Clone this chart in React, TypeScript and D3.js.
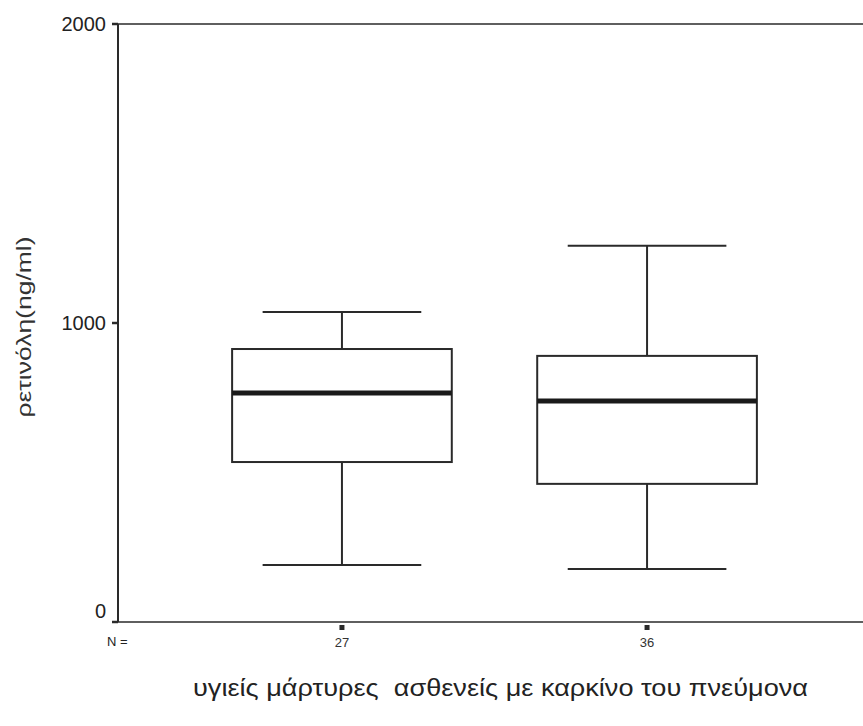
import React from 'react';
import * as d3 from 'd3';

// groups and their sample sizes
const groups = ['υγιείς μάρτυρες', 'ασθενείς με καρκίνο του πνεύμονα'];
const counts = [27, 36];

// five-number summaries (ng/ml)
const whiskerLow = [191, 177];
const q1 = [535, 462];
const medians = [766, 739];
const q3 = [913, 890];
const whiskerHigh = [1037, 1258];

const yTicks = [0, 1000, 2000];

const W = 863;
const H = 726;

const App: React.FC = () => {
  const x = d3.scalePoint<string>()
    .domain(groups)
    .range([118, 871])
    .padding(0.734);

  const y = d3.scaleLinear()
    .domain([0, 2000])
    .range([622, 24]);

  const step = x.step();
  const boxW = step * 0.72;
  const capW = step * 0.52;
  const ink = '#2a2a2a';
  const font = 'Liberation Sans, Arial, sans-serif';

  return (
    <svg width={W} height={H} style={{ position: 'absolute', left: 0, top: 0, background: '#fff' }}>
      {/* axes */}
      <line x1={118} x2={W} y1={y(2000)} y2={y(2000)} stroke={ink} strokeWidth={1.5} />
      <line x1={118} x2={W} y1={y(0)} y2={y(0)} stroke={ink} strokeWidth={1.5} />
      <line x1={118} x2={118} y1={y(2000)} y2={y(0)} stroke={ink} strokeWidth={2} />

      {yTicks.map(t => (
        <g key={t}>
          <line x1={112} x2={118} y1={y(t)} y2={y(t)} stroke={ink} strokeWidth={2.5} />
          <text x={106} y={t === 0 ? y(t) - 11 : y(t)} dy="0.35em" textAnchor="end"
            fontFamily={font} fontSize={20} fill="#222">{t}</text>
        </g>
      ))}

      <text transform={`translate(31,327) rotate(-90)`} textAnchor="middle"
        fontFamily={font} fontSize={21} fill="#333" textLength={181} lengthAdjust="spacingAndGlyphs">ρετινόλη(ng/ml)</text>

      {/* N row */}
      <text x={107} y={646} fontFamily={font} fontSize={13} fill="#222">N =</text>
      {groups.map((g, i) => (
        <g key={g + 'n'}>
          <rect x={(x(g) as number) - 2.5} y={625} width={5} height={5} fill={ink} />
          <text x={x(g)} y={647} textAnchor="middle" fontFamily={font} fontSize={13} fill="#333">{counts[i]}</text>
        </g>
      ))}

      {/* boxes */}
      {groups.map((g, i) => {
        const cx = x(g) as number;
        return (
          <g key={g}>
            <line x1={cx} x2={cx} y1={y(whiskerHigh[i])} y2={y(q3[i])} stroke={ink} strokeWidth={2} />
            <line x1={cx} x2={cx} y1={y(q1[i])} y2={y(whiskerLow[i])} stroke={ink} strokeWidth={2} />
            <line x1={cx - capW / 2} x2={cx + capW / 2} y1={y(whiskerHigh[i])} y2={y(whiskerHigh[i])} stroke={ink} strokeWidth={2} />
            <line x1={cx - capW / 2} x2={cx + capW / 2} y1={y(whiskerLow[i])} y2={y(whiskerLow[i])} stroke={ink} strokeWidth={2} />
            <rect x={cx - boxW / 2} y={y(q3[i])} width={boxW} height={y(q1[i]) - y(q3[i])}
              fill="none" stroke={ink} strokeWidth={2} />
            <line x1={cx - boxW / 2} x2={cx + boxW / 2} y1={y(medians[i])} y2={y(medians[i])} stroke="#1a1a1a" strokeWidth={5} />
          </g>
        );
      })}

      <text x={193} y={696} fontFamily={font} fontSize={24} fill="#222" style={{ whiteSpace: 'pre' }}
        textLength={615} lengthAdjust="spacingAndGlyphs">
        {groups.join('  ')}
      </text>
    </svg>
  );
};

export default App;
